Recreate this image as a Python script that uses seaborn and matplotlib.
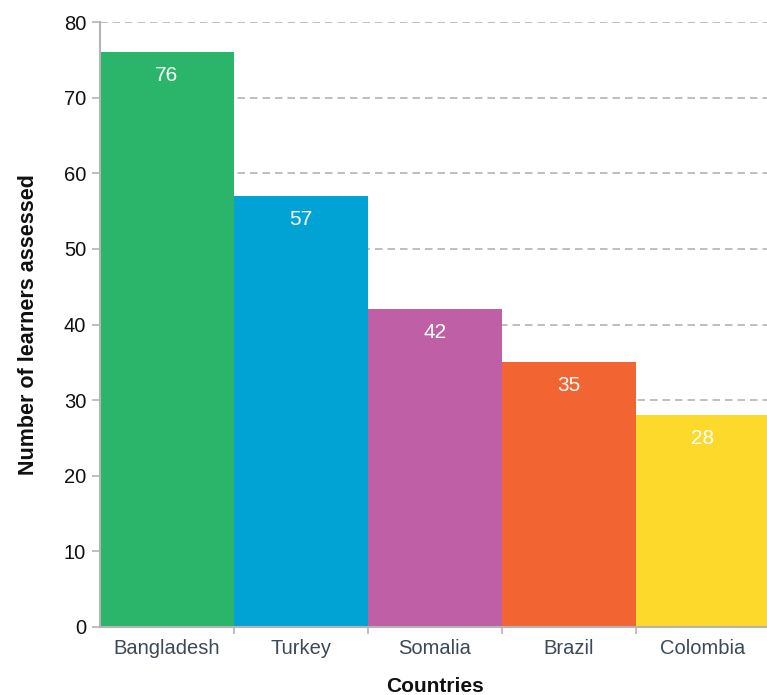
import matplotlib
matplotlib.use("Agg")
import matplotlib.pyplot as plt
from matplotlib.ticker import FixedLocator
import seaborn as sns
import pandas as pd

countries = ["Bangladesh", "Turkey", "Somalia", "Brazil", "Colombia"]
learners = [76, 57, 42, 35, 28]
colors = ["#2bb56a", "#00a3d4", "#bf5fa5", "#f26533", "#fdd92b"]
y_ticks = [0, 10, 20, 30, 40, 50, 60, 70, 80]

sns.set_theme(style="white")
plt.rcParams["font.family"] = ["Liberation Sans", "DejaVu Sans"]

df = pd.DataFrame({"country": countries, "learners": learners})

fig = plt.figure(figsize=(7.67, 6.95), dpi=100)
ax = fig.add_axes([100 / 767, 68 / 695, 670 / 767, 605 / 695])

sns.barplot(data=df, x="country", y="learners", hue="country",
            palette=colors, width=1.0, legend=False, ax=ax,
            saturation=1, linewidth=0, edgecolor="none", zorder=2)

ax.set_ylim(0, 80)
ax.set_xlim(-0.5, len(countries) - 0.5)
ax.set_yticks(y_ticks)
ax.yaxis.grid(True, linestyle=(0, (4.5, 3)), color="#b4b4b4", linewidth=1.2, zorder=0)
ax.xaxis.grid(False)
ax.set_axisbelow(True)

for s in ["top", "right"]:
    ax.spines[s].set_visible(False)
for s in ["left", "bottom"]:
    ax.spines[s].set_color("#b4b4b4")
    ax.spines[s].set_linewidth(1.5)
    ax.spines[s].set_zorder(3)

ax.tick_params(axis="y", which="major", length=6, width=1.2, color="#b4b4b4",
               labelsize=14.5, labelcolor="#111111", pad=4, left=True)
ax.tick_params(axis="x", which="major", length=0, labelsize=14.5,
               labelcolor="#3c4a57", pad=9)
ax.xaxis.set_minor_locator(FixedLocator([i + 0.5 for i in range(len(countries) - 1)]))
ax.tick_params(axis="x", which="minor", length=5, width=1.2, color="#b4b4b4", bottom=True)

for i, v in enumerate(learners):
    ax.annotate(str(v), (i, v), xytext=(0, -17), textcoords="offset points",
                ha="center", va="center", color="white", fontsize=15, zorder=4)

ax.set_xlabel("Countries", fontsize=15, fontweight="bold", color="#111111", labelpad=13)
ax.set_ylabel("Number of learners assessed", fontsize=15.5, fontweight="bold",
              color="#111111", labelpad=18)

fig.savefig("out.png", dpi=100)
